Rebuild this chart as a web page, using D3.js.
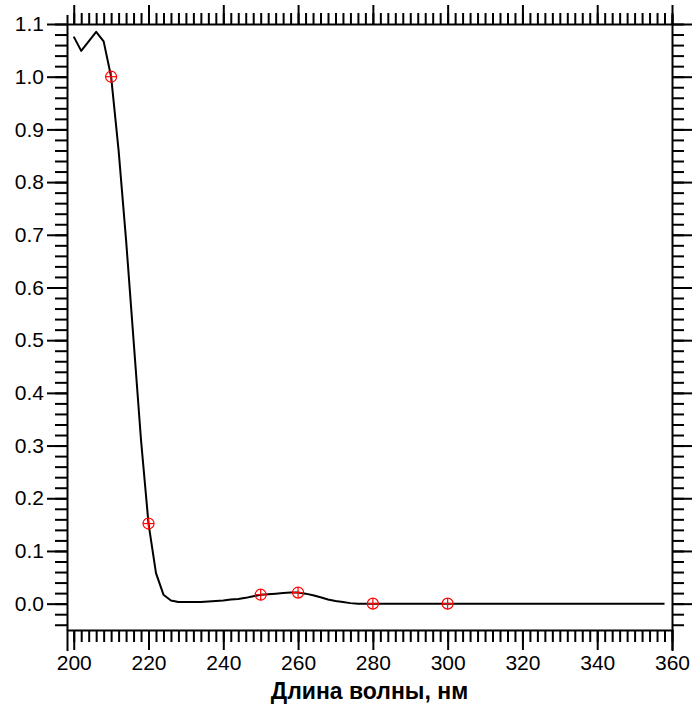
<!DOCTYPE html>
<html>
<head>
<meta charset="utf-8">
<script src="https://cdn.jsdelivr.net/npm/d3@7"></script>
<style>
  body { margin: 0; background: #fff; }
  svg { display: block; }
</style>
</head>
<body>
<svg width="693" height="705"></svg>
<script>
// spectrum, every 2 nm
var wavelength = [200, 202, 204, 206, 208, 210, 212, 214, 216, 218, 220, 222, 224, 226, 228, 230,
  232, 234, 236, 238, 240, 242, 244, 246, 248, 250, 252, 254, 256, 258, 260, 262, 264, 266, 268,
  270, 272, 274, 276, 280, 290, 300, 310, 320, 330, 340, 350, 358];
var absorb = [1.076, 1.049, 1.067, 1.085, 1.067, 1.0, 0.86, 0.69, 0.50, 0.31, 0.152, 0.058, 0.017,
  0.006, 0.003, 0.003, 0.003, 0.003, 0.004, 0.005, 0.006, 0.008, 0.009, 0.011, 0.014, 0.017, 0.018,
  0.019, 0.020, 0.021, 0.021, 0.019, 0.016, 0.012, 0.008, 0.005, 0.003, 0.001, 0.0, 0.0, 0.0, 0.0,
  0.0, 0.0, 0.0, 0.0, 0.0, 0.0];

// measured points (red markers)
var markX = [210, 220, 250, 260, 280, 300];
var markY = [1.0, 0.152, 0.017, 0.021, 0.0, 0.0];

var xTicks = [200, 220, 240, 260, 280, 300, 320, 340, 360];
var yTicks = [0, 0.1, 0.2, 0.3, 0.4, 0.5, 0.6, 0.7, 0.8, 0.9, 1.0, 1.1];

var xTitle = "Длина волны, нм";

var mLeft = 67, mRight = 672, mTop = 24, mBottom = 630;

var x = d3.scaleLinear().domain([198.2, 360]).range([mLeft, mRight]);
var y = d3.scaleLinear().domain([-0.05, 1.1]).range([mBottom, mTop]);

var svg = d3.select("svg")
    .style("font-family", "Arial, 'Liberation Sans', sans-serif");

var xMinor = d3.range(200, 361, 2);
var yMinor = d3.range(-2, 56).map(d => d * 0.02);

function styleAxis(g) {
  g.selectAll("path, line").attr("stroke", "#000").attr("stroke-width", 2);
  g.selectAll("text").attr("fill", "#000");
}

// minor ticks
svg.append("g").attr("transform", `translate(0,${mBottom})`)
    .call(d3.axisBottom(x).tickValues(xMinor).tickSize(12).tickSizeOuter(21).tickFormat(""))
    .call(styleAxis);
svg.append("g").attr("transform", `translate(0,${mTop})`)
    .call(d3.axisTop(x).tickValues(xMinor).tickSize(11).tickSizeOuter(9).tickFormat(""))
    .call(styleAxis);
svg.append("g").attr("transform", `translate(${mLeft},0)`)
    .call(d3.axisLeft(y).tickValues(yMinor).tickSize(12).tickSizeOuter(0).tickFormat(""))
    .call(styleAxis);
svg.append("g").attr("transform", `translate(${mRight},0)`)
    .call(d3.axisRight(y).tickValues(yMinor).tickSize(12).tickSizeOuter(0).tickFormat(""))
    .call(styleAxis);

// major ticks
var xb = svg.append("g").attr("transform", `translate(0,${mBottom})`)
    .call(d3.axisBottom(x).tickValues(xTicks).tickSize(20).tickPadding(4).tickFormat(d3.format("d")))
    .call(styleAxis);
xb.selectAll("text").style("font-size", "21px").attr("dy", "0.76em");
xb.select(".domain").remove();

svg.append("g").attr("transform", `translate(0,${mTop})`)
    .call(d3.axisTop(x).tickValues(xTicks).tickSize(19).tickFormat(""))
    .call(styleAxis)
    .select(".domain").remove();

var yl = svg.append("g").attr("transform", `translate(${mLeft},0)`)
    .call(d3.axisLeft(y).tickValues(yTicks).tickSize(20).tickPadding(3).tickFormat(d3.format(".1f")))
    .call(styleAxis);
yl.selectAll("text").style("font-size", "21px");
yl.select(".domain").remove();

svg.append("g").attr("transform", `translate(${mRight},0)`)
    .call(d3.axisRight(y).tickValues(yTicks).tickSize(20).tickFormat(""))
    .call(styleAxis)
    .select(".domain").remove();

// curve
var line = d3.line()
    .x((d, i) => x(wavelength[i]))
    .y(d => y(d));

svg.append("path")
    .datum(absorb)
    .attr("fill", "none")
    .attr("stroke", "#000")
    .attr("stroke-width", 2)
    .attr("stroke-linejoin", "round")
    .attr("d", line);

// markers: circle with cross
var mk = svg.append("g")
    .selectAll("g")
    .data(markX)
    .join("g")
    .attr("transform", (d, i) => `translate(${x(d)},${y(markY[i])})`)
    .attr("stroke", "#ff0000")
    .attr("stroke-width", 1.2)
    .attr("fill", "none");
mk.append("circle").attr("r", 5.5);
mk.append("line").attr("x1", -5.5).attr("x2", 5.5);
mk.append("line").attr("y1", -5.5).attr("y2", 5.5);

// axis title
svg.append("text")
    .attr("x", (mLeft + mRight) / 2)
    .attr("y", 699)
    .attr("text-anchor", "middle")
    .style("font-size", "23px")
    .style("font-weight", "bold")
    .text(xTitle);
</script>
</body>
</html>
